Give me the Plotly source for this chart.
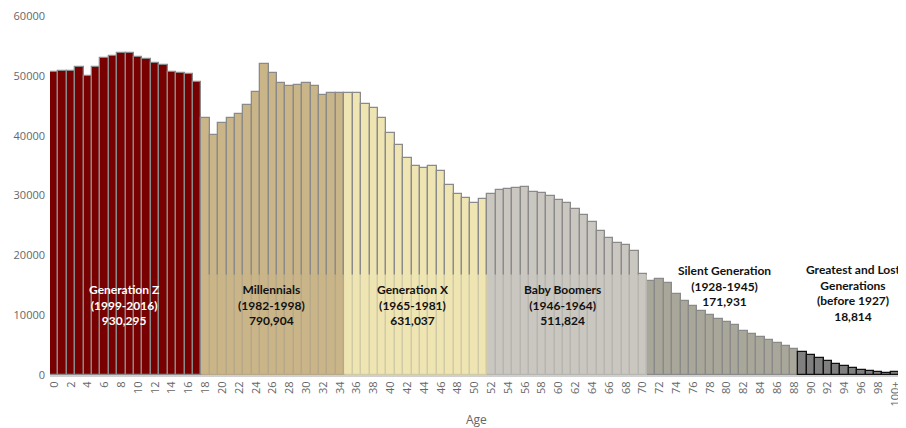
import plotly.graph_objects as go

# Population by single year of age
ages = [str(a) for a in range(100)] + ["100+"]
population = [
    50650, 50880, 50730, 51430, 50050, 51540, 52990, 53270, 53770, 53890,
    53100, 52820, 52220, 51770, 50710, 50480, 50310, 48930, 43030, 40030,
    42080, 42960, 43630, 45130, 47360, 51990, 50480, 48760, 48310, 48540,
    48810, 48260, 46810, 47200, 47140, 47090, 47090, 45250, 44590, 42960,
    40460, 38460, 36350, 34950, 34620, 34950, 34120, 31730, 30220, 29560,
    28830, 29440, 30170, 30950, 31110, 31280, 31340, 30560, 30390, 29890,
    29220, 28670, 27770, 26770, 25490, 23990, 22930, 22040, 21650, 20760,
    16850, 15700, 16000, 15390, 13580, 12360, 11470, 10690, 10070, 9300,
    8790, 8290, 7400, 6900, 6350, 5900, 5400, 4840, 4290, 3790,
    3280, 2780, 2340, 1890, 1500, 1110, 840, 610, 450, 330,
    500,
]

# Generations: name, first age index, last age index, fill colour
gen_names = ["Generation Z", "Millennials", "Generation X", "Baby Boomers",
             "Silent Generation", "Greatest and Lost<br>Generations"]
gen_years = ["(1999-2016)", "(1982-1998)", "(1965-1981)", "(1946-1964)",
             "(1928-1945)", "(before 1927)"]
gen_totals = ["930,295", "790,904", "631,037", "511,824", "171,931", "18,814"]
gen_start = [0, 18, 35, 52, 71, 89]
gen_end = [17, 34, 51, 70, 88, 100]
gen_colors = ["#780000", "#cab589", "#efe5b3", "#c9c7c0", "#a9a799", "#7f7f7f"]

bar_colors, line_colors = [], []
for i in range(len(ages)):
    for g in range(len(gen_names)):
        if gen_start[g] <= i <= gen_end[g]:
            bar_colors.append(gen_colors[g])
            line_colors.append("#111111" if g == 5 else "#8a8a8a")

fig = go.Figure()
fig.add_trace(go.Bar(
    x=ages, y=population,
    marker=dict(color=bar_colors, line=dict(color=line_colors, width=1.3)),
    hoverinfo="x+y",
))

# translucent bands behind the labels (hide the lower outlines)
for g in [1, 2, 3]:
    fig.add_shape(type="rect", xref="x", yref="y",
                  x0=gen_start[g] - 0.5, x1=gen_end[g] + 0.5, y0=0, y1=16800,
                  fillcolor=gen_colors[g], opacity=0.7, line=dict(width=0),
                  layer="above")

label_x = [8.3, 25.9, 42.7, 60.5, 79.7, 95.0]
label_y = [11760, 11760, 11760, 11760, 14870, 13750]
label_color = ["white", "#111", "#111", "#111", "#111", "#111"]
for g in range(len(gen_names)):
    fig.add_annotation(
        x=label_x[g], y=label_y[g], xref="x", yref="y", showarrow=False,
        text="<b>%s<br>%s<br>%s</b>" % (gen_names[g], gen_years[g], gen_totals[g]),
        font=dict(family="Lato", size=12, color=label_color[g]),
        align="center",
    )

fig.add_annotation(x=0.5, y=-0.125, xref="paper", yref="paper", showarrow=False,
                   text="Age", yanchor="middle",
                   font=dict(family="Open Sans", size=12, color="#666666"))

# page body has an 8px margin, so the figure is sized to fit inside it
fig.update_layout(
    width=898, height=420,
    margin=dict(l=42, r=4, t=8, b=53),
    plot_bgcolor="white", paper_bgcolor="white",
    bargap=0, showlegend=False,
    font=dict(family="Open Sans", color="#666666"),
    xaxis=dict(
        type="category", tickvals=ages[::2], tickangle=-90,
        tickfont=dict(size=11, color="#666666"),
        showline=True, linecolor="#cfcfcf", linewidth=2,
        showgrid=False, ticks="", automargin=False,
    ),
    yaxis=dict(
        range=[0, 60000], dtick=10000, showgrid=False, zeroline=False,
        tickfont=dict(size=11, color="#666666"), ticks="", tickformat="d",
        automargin=False, ticklabelstandoff=4, ticklabeloverflow="allow",
    ),
)

fig.write_html("out.html")
